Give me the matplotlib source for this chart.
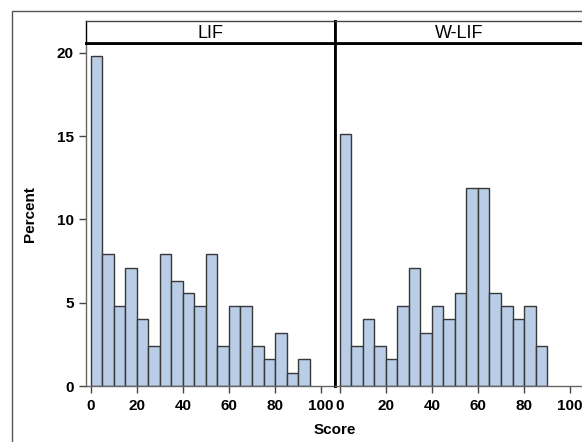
#!/usr/bin/env python3
"""Paneled histogram of Score for LIF and W-LIF (percent of subjects)."""

import matplotlib
matplotlib.use("Agg")
import matplotlib.pyplot as plt
from matplotlib.patches import Rectangle

plt.rcParams["font.family"] = ["Liberation Sans", "DejaVu Sans"]

# bin left edges are 0, 5, 10, ... (width 5)
BIN_WIDTH = 5
panels = ["LIF", "W-LIF"]
lif_pct = [19.8, 7.9, 4.8, 7.1, 4.0, 2.4, 7.9, 6.3, 5.6, 4.8,
           7.9, 2.4, 4.8, 4.8, 2.4, 1.6, 3.2, 0.8, 1.6]
wlif_pct = [15.1, 2.4, 4.0, 2.4, 1.6, 4.8, 7.1, 3.2, 4.8, 4.0,
            5.6, 11.9, 11.9, 5.6, 4.8, 4.0, 4.8, 2.4]
x_ticks = [0, 20, 40, 60, 80, 100]
y_ticks = [0, 5, 10, 15, 20]

BAR_FILL = "#b9cde6"
BAR_EDGE = "#383838"
W, H = 582, 442
FS = 11


def fig_rect(x0, y0, x1, y1):
    """Pixel box (top-left origin) -> figure fraction rect."""
    return [x0 / W, 1 - y1 / H, (x1 - x0) / W, (y1 - y0) / H]


fig = plt.figure(figsize=(W / 100, H / 100), dpi=100)

# outer frame (cropped at right and bottom in the reference)
fig.patches.append(Rectangle((12 / W, -0.1), 1.2, 1 - 11 / H + 0.1,
                             transform=fig.transFigure, fill=False,
                             edgecolor="#555555", linewidth=1.0))

boxes = [(86, 335), (335, 584)]
data = [lif_pct, wlif_pct]

for i, (name, pct, (x0, x1)) in enumerate(zip(panels, data, boxes)):
    ax = fig.add_axes(fig_rect(x0, 43, x1, 386))
    lefts = [k * BIN_WIDTH for k in range(len(pct))]
    ax.bar(lefts, pct, width=BIN_WIDTH, align="edge", color=BAR_FILL,
           edgecolor=BAR_EDGE, linewidth=1.0)
    ax.set_xlim(-2, 106)
    ax.set_ylim(0, 20.58)
    ax.set_xticks(x_ticks)
    ax.set_xticklabels([str(t) for t in x_ticks], fontsize=FS, fontweight="bold")
    ax.tick_params(axis="x", length=5, width=1, color="#444444", pad=4)
    ax.set_yticks(y_ticks)
    if i == 0:
        ax.set_yticklabels([str(t) for t in y_ticks], fontsize=FS, fontweight="bold")
        ax.tick_params(axis="y", length=5, width=1, color="#444444", pad=4)
        ax.set_ylabel("Percent", fontsize=FS, fontweight="bold", labelpad=14)
        ax.spines["left"].set_color("#666666")
        ax.spines["left"].set_linewidth(1.0)
        ax.spines["right"].set_color("black")
        ax.spines["right"].set_linewidth(2.0)
    else:
        ax.tick_params(axis="y", left=False, labelleft=False)
        ax.spines["left"].set_color("black")
        ax.spines["left"].set_linewidth(2.0)
        ax.spines["right"].set_visible(False)
    ax.spines["bottom"].set_color("#666666")
    ax.spines["bottom"].set_linewidth(1.0)
    ax.spines["top"].set_color("black")
    ax.spines["top"].set_linewidth(2.0)

    # header strip with the panel name
    hx = fig.add_axes(fig_rect(x0, 21, x1, 43))
    hx.set_xticks([])
    hx.set_yticks([])
    for side in ("left", "right"):
        hx.spines[side].set_color("black")
        hx.spines[side].set_linewidth(2.0 if (i == 0 and side == "right") or
                                      (i == 1 and side == "left") else 1.0)
    hx.spines["top"].set_color("#444444")
    hx.spines["top"].set_linewidth(1.0)
    hx.spines["bottom"].set_color("black")
    hx.spines["bottom"].set_linewidth(2.0)
    if i == 1:
        hx.spines["right"].set_visible(False)
    hx.text(0.5, 0.45, name, transform=hx.transAxes, ha="center", va="center",
            fontsize=13)

fig.text(335 / W, 1 - 430 / H, "Score", ha="center", va="center",
         fontsize=FS, fontweight="bold")

fig.savefig("out.png", dpi=100)
